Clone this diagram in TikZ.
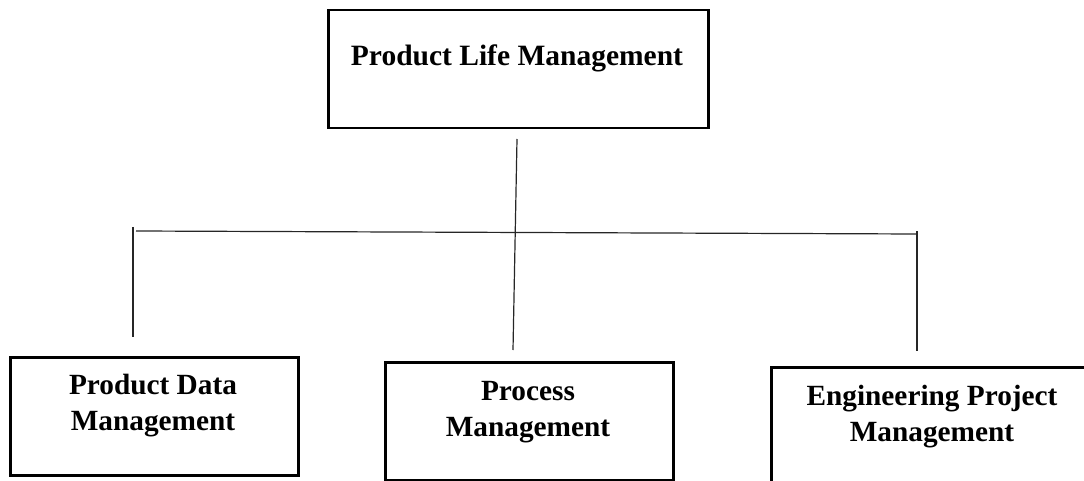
\documentclass[tikz,border=0pt]{standalone}
\usepackage{fontspec}
\setmainfont{Liberation Serif}
\begin{document}
\begin{tikzpicture}[x=1pt,y=-1pt,
  box/.style={draw=black, line width=2.5pt, inner sep=0pt, anchor=north west},
  lbl/.style={font=\bfseries\fontsize{29.3}{36}\selectfont, align=center, inner sep=0pt},
  conn/.style={draw=black!85, line width=1.2pt}]
\useasboundingbox (0,0) rectangle (1084,481);
% boxes
\node[box, minimum width=380pt, minimum height=118pt] (plm) at (327,9) {};
\node[box, minimum width=288pt, minimum height=118pt] (pdm) at (9,356) {};
\node[box, minimum width=288pt, minimum height=118pt] (pm) at (384,361) {};
\node[box, minimum width=324pt, minimum height=118pt] (epm) at (770,366) {};
% labels
\node[lbl, font=\bfseries\fontsize{29.5}{36}\selectfont] (tplm) at (517,58) {Product Life Management};
\node[lbl] (tpdm) at (153,406) {Product Data\\Management};
\node[lbl] (tpm) at (528,412) {Process\\Management};
\node[lbl] (tepm) at (932,417) {Engineering Project\\Management};
% connector points
\coordinate (ctop) at (517,139);
\coordinate (cbot) at (513,350);
\coordinate (hl) at (136,231);
\coordinate (hr) at (917,234);
\coordinate (ltop) at (133,227);
\coordinate (lbot) at (133,337);
\coordinate (rtop) at (917,231);
\coordinate (rbot) at (917,351);
\draw[conn] (ctop) -- (cbot);
\draw[conn] (hl) -- (hr);
\draw[conn] (ltop) -- (lbot);
\draw[conn] (rtop) -- (rbot);
\end{tikzpicture}
\end{document}
